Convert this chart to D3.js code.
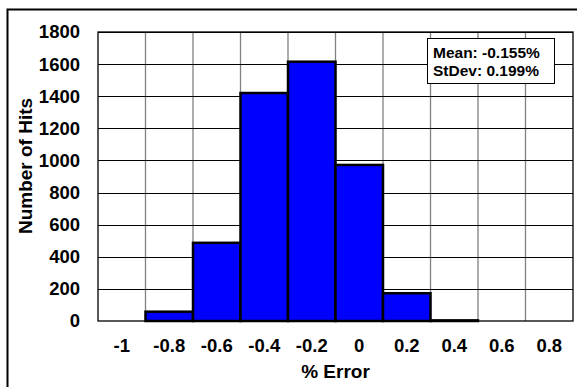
<!DOCTYPE html>
<html>
<head>
<meta charset="utf-8">
<script src="https://cdn.jsdelivr.net/npm/d3@7"></script>
<style>
  body { margin: 0; background: #fff; }
  text { font-family: Arial, "Liberation Sans", sans-serif; font-weight: bold; fill: #000; }
</style>
</head>
<body>
<svg id="chart" width="577" height="387"></svg>
<script>
// histogram bins (% error) and counts
var bins = ["-1", "-0.8", "-0.6", "-0.4", "-0.2", "0", "0.2", "0.4", "0.6", "0.8"];
var counts = [0, 58, 487, 1420, 1615, 972, 173, 4, 0, 0];
var yTicks = [0, 200, 400, 600, 800, 1000, 1200, 1400, 1600, 1800];
var statLines = ["Mean: -0.155%", "StDev: 0.199%"];

var svg = d3.select("#chart");
var margin = {left: 98, top: 32, right: 4, bottom: 66};
var width = 577 - margin.left - margin.right,
    height = 387 - margin.top - margin.bottom;
var fontFam = "Arial, 'Liberation Sans', sans-serif";

// outer frame
svg.append("rect")
  .attr("x", 7.5).attr("y", 9.5)
  .attr("width", 580).attr("height", 390)
  .attr("fill", "none").attr("stroke", "#000").attr("stroke-width", 2);

var g = svg.append("g").attr("transform", "translate(" + margin.left + "," + margin.top + ")");

var x = d3.scaleBand().domain(bins).range([0, width]).padding(0);
var y = d3.scaleLinear().domain([0, 1800]).range([height, 0]);

// vertical grid (grey)
g.selectAll(".vgrid")
  .data(bins.slice(1))
  .enter().append("line")
    .attr("x1", function(d) { return x(d); })
    .attr("x2", function(d) { return x(d); })
    .attr("y1", 0).attr("y2", height)
    .attr("stroke", "#808080").attr("stroke-width", 1.3);

// horizontal grid (black)
g.selectAll(".hgrid")
  .data(yTicks.slice(1))
  .enter().append("line")
    .attr("x1", 0).attr("x2", width)
    .attr("y1", function(d) { return Math.round(y(d)) + 0.5; })
    .attr("y2", function(d) { return Math.round(y(d)) + 0.5; })
    .attr("stroke", "#000").attr("stroke-width", 1);

// bars
g.selectAll(".bar")
  .data(counts.map(function(c, i) { return {bin: bins[i], n: c}; }).filter(function(d) { return d.n > 0; }))
  .enter().append("rect")
    .attr("x", function(d) { return x(d.bin); })
    .attr("y", function(d) { return y(d.n); })
    .attr("width", x.bandwidth())
    .attr("height", function(d) { return height - y(d.n); })
    .attr("fill", "#0000ff")
    .attr("stroke", "#000").attr("stroke-width", 2.5);

// plot border
g.append("rect")
  .attr("x", 0).attr("y", 0)
  .attr("width", width).attr("height", height)
  .attr("fill", "none").attr("stroke", "#000").attr("stroke-width", 1.3);

// y axis labels
var yAxis = d3.axisLeft(y).tickValues(yTicks).tickSize(0).tickPadding(18).tickFormat(d3.format("d"));
g.append("g").call(yAxis)
  .attr("font-size", 18.5).attr("font-family", fontFam)
  .call(function(a) { a.select(".domain").remove(); })
  .selectAll("text")
    .attr("font-weight", "bold")
    .attr("fill", "#000");

// x axis labels
var xAxis = d3.axisBottom(x).tickSize(0).tickPadding(17.5);
g.append("g").attr("transform", "translate(0," + height + ")").call(xAxis)
  .attr("font-size", 18.5).attr("font-family", fontFam)
  .call(function(a) { a.select(".domain").remove(); })
  .selectAll("text")
    .attr("font-weight", "bold")
    .attr("fill", "#000");

// axis titles
svg.append("text")
  .attr("x", margin.left + width / 2).attr("y", 377.5)
  .attr("text-anchor", "middle").attr("font-size", 19)
  .text("% Error");

svg.append("text")
  .attr("transform", "translate(31.5,166) rotate(-90)")
  .attr("text-anchor", "middle").attr("font-size", 19)
  .text("Number of Hits");

// stats box
var box = svg.append("g").attr("transform", "translate(427,38)");
box.append("rect")
  .attr("x", 0.5).attr("y", 0.5).attr("width", 127).attr("height", 45)
  .attr("fill", "#fff").attr("stroke", "#000").attr("stroke-width", 1);
box.selectAll("text.stat")
  .data(statLines)
  .enter().append("text")
    .attr("class", "stat")
    .attr("x", 6)
    .attr("y", function(d, i) { return 20 + i * 18; })
    .attr("font-size", 15.5)
    .text(function(d) { return d; });
</script>
</body>
</html>
